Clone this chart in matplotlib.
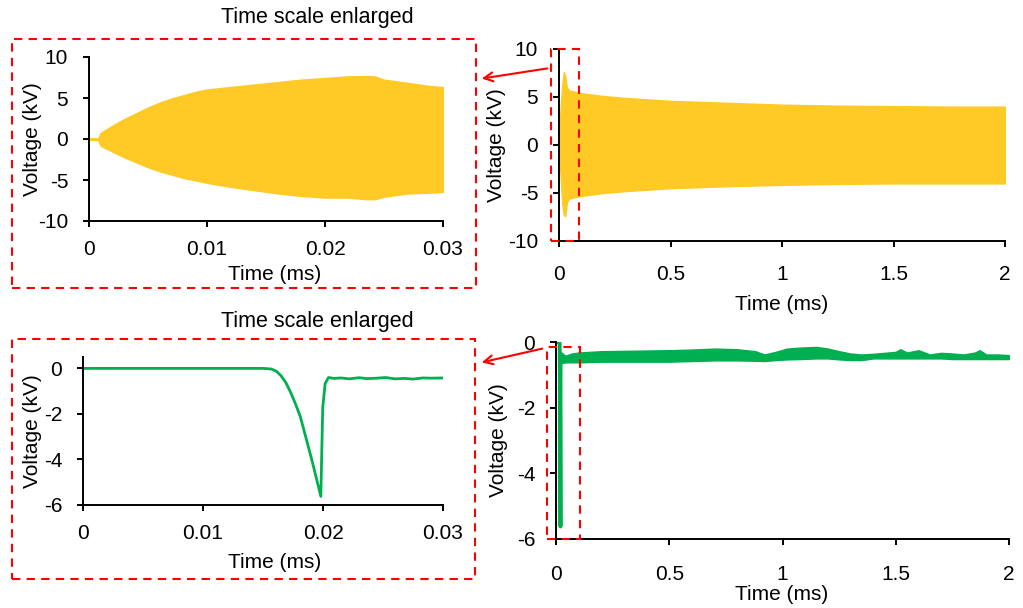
import matplotlib
matplotlib.use("Agg")
import matplotlib.pyplot as plt
from matplotlib.patches import Rectangle, FancyArrowPatch

plt.rcParams['font.family'] = ['Liberation Sans', 'DejaVu Sans']
plt.rcParams['axes.unicode_minus'] = False

YELLOW = '#FFC926'
GREEN = '#00B050'
RED = '#FF0000'

# ---- data ----
# top: oscillating voltage, envelope (kV) vs time (ms)
zoom_t = [0, 0.0008, 0.001, 0.002, 0.003, 0.004, 0.005, 0.006, 0.007, 0.008, 0.009,
          0.010, 0.012, 0.014, 0.016, 0.018, 0.020, 0.022, 0.0235, 0.0242, 0.025,
          0.027, 0.029, 0.030]
zoom_upper = [0, 0.05, 0.7, 1.6, 2.4, 3.1, 3.8, 4.4, 4.9, 5.3, 5.7, 6.0, 6.3, 6.6,
              6.9, 7.2, 7.4, 7.6, 7.65, 7.6, 7.2, 6.8, 6.4, 6.3]
zoom_lower = [0, -0.1, -0.8, -1.5, -2.2, -2.8, -3.4, -3.9, -4.3, -4.7, -5.0, -5.3,
              -5.8, -6.2, -6.6, -6.9, -7.1, -7.1, -7.3, -7.3, -7.0, -6.6, -6.5, -6.4]

full_t = [0, 0.003, 0.008, 0.015, 0.022, 0.028, 0.035, 0.045, 0.06, 0.1, 0.2, 0.3,
          0.5, 0.75, 1.0, 1.25, 1.5, 1.75, 2.0]
full_upper = [0, 2.0, 4.2, 6.4, 7.6, 7.2, 6.0, 5.7, 5.6, 5.4, 5.1, 4.9, 4.6, 4.4,
              4.2, 4.1, 4.05, 4.0, 4.0]
full_lower = [0, -1.6, -3.6, -6.2, -7.3, -7.4, -6.0, -5.6, -5.5, -5.3, -5.0, -4.8,
              -4.5, -4.3, -4.15, -4.05, -4.0, -4.0, -4.0]

# bottom: pulse voltage (kV) vs time (ms)
pulse_t = [0, 0.0100, 0.0150, 0.0153, 0.0157, 0.0161, 0.0165, 0.0169, 0.0173,
           0.0177, 0.0181, 0.01906, 0.01982, 0.0199, 0.01998, 0.02018, 0.02046,
           0.0209, 0.0215, 0.0222, 0.0230, 0.0237, 0.0245, 0.0252, 0.0260, 0.0268,
           0.0275, 0.0283, 0.0290, 0.0300]
pulse_v = [0, 0, 0, -0.01, -0.03, -0.12, -0.32, -0.62, -1.05, -1.55, -2.1, -4.0,
           -5.62, -3.6, -1.7, -0.66, -0.40, -0.44, -0.42, -0.46, -0.41, -0.45,
           -0.43, -0.40, -0.46, -0.44, -0.47, -0.42, -0.43, -0.42]

band_t = [0.02, 0.04, 0.07, 0.1, 0.15, 0.2, 0.3, 0.4, 0.5, 0.6, 0.7, 0.8, 0.88, 0.92,
          0.97, 1.02, 1.08, 1.15, 1.2, 1.25, 1.3, 1.35, 1.4, 1.45, 1.5, 1.52, 1.55,
          1.6, 1.62, 1.65, 1.7, 1.75, 1.8, 1.85, 1.87, 1.9, 1.95, 2.0]
band_upper = [-0.30, -0.42, -0.35, -0.32, -0.30, -0.28, -0.27, -0.26, -0.25, -0.23,
              -0.20, -0.22, -0.28, -0.38, -0.30, -0.20, -0.17, -0.15, -0.20, -0.28,
              -0.35, -0.38, -0.36, -0.33, -0.30, -0.22, -0.32, -0.25, -0.30, -0.38,
              -0.33, -0.35, -0.38, -0.32, -0.25, -0.38, -0.38, -0.40]
band_lower = [-0.65, -0.62, -0.62, -0.62, -0.61, -0.60, -0.60, -0.60, -0.60, -0.58,
              -0.56, -0.56, -0.57, -0.58, -0.55, -0.53, -0.52, -0.50, -0.50, -0.53,
              -0.55, -0.55, -0.50, -0.50, -0.50, -0.50, -0.50, -0.50, -0.50, -0.50,
              -0.50, -0.52, -0.52, -0.52, -0.52, -0.52, -0.52, -0.52]

zoom_xticks = [0, 0.01, 0.02, 0.03]
zoom_xlabels = ['0', '0.01', '0.02', '0.03']
full_xticks = [0, 0.5, 1, 1.5, 2]
full_xlabels = ['0', '0.5', '1', '1.5', '2']
osc_yticks = [-10, -5, 0, 5, 10]
pulse_yticks = [-6, -4, -2, 0]

# ---- layout (pixel based) ----
W, H = 1023, 608
fig = plt.figure(figsize=(W / 100, H / 100), dpi=100)


def px_axes(x0, y0, x1, y1):
    return fig.add_axes([x0 / W, 1 - y1 / H, (x1 - x0) / W, (y1 - y0) / H])


def fx(x):
    return x / W


def fy(y):
    return 1 - y / H


def style(ax, xticks, xlabels, yticks, xpad):
    for s in ['top', 'right']:
        ax.spines[s].set_visible(False)
    for s in ['left', 'bottom']:
        ax.spines[s].set_linewidth(1.4)
    ax.set_xticks(xticks)
    ax.set_xticklabels(xlabels)
    ax.set_yticks(yticks)
    ax.set_yticklabels([str(v) for v in yticks])
    ax.tick_params(direction='out', length=4, width=1.4, labelsize=15)
    ax.tick_params(axis='x', pad=xpad)
    ax.tick_params(axis='y', pad=11)


ax1 = px_axes(89, 57, 443, 221)
ax1.fill_between(zoom_t, zoom_lower, zoom_upper, color=YELLOW, lw=1.5)
ax1.set_xlim(0, 0.03)
ax1.set_ylim(-10, 10)
style(ax1, zoom_xticks, zoom_xlabels, osc_yticks, 10)

ax2 = px_axes(559, 49, 1005, 241)
ax2.fill_between(full_t, full_lower, full_upper, color=YELLOW, lw=1)
ax2.set_xlim(0, 2)
ax2.set_ylim(-10, 10)
style(ax2, full_xticks, full_xlabels, osc_yticks, 13)

ax3 = px_axes(83, 357, 443, 505)
ax3.plot(pulse_t, pulse_v, color=GREEN, lw=2)
ax3.set_xlim(0, 0.03)
ax3.set_ylim(-6, 0.5)
style(ax3, zoom_xticks, zoom_xlabels, pulse_yticks, 10)

ax4 = px_axes(556, 342, 1009, 539)
ax4.plot(pulse_t, pulse_v, color=GREEN, lw=2.8)
ax4.fill_between(band_t, band_lower, band_upper, color=GREEN, lw=1)
ax4.set_xlim(0, 2)
ax4.set_ylim(-6, 0)
style(ax4, full_xticks, full_xlabels, pulse_yticks, 15)

# axis titles
for x, y in [(275, 275), (782, 305), (275, 563), (782, 595)]:
    fig.text(fx(x), fy(y), 'Time (ms)', fontsize=15, ha='center', va='center')
for x, y in [(32, 139), (497, 145), (32, 431), (498, 440)]:
    fig.text(fx(x), fy(y), 'Voltage (kV)', fontsize=15, ha='center', va='center',
             rotation=90)
for y in [18, 322]:
    fig.text(fx(317), fy(y), 'Time scale enlarged', fontsize=15.5, ha='center',
             va='center')

# red dashed boxes and arrows
boxes = [(12, 39, 476, 288), (12, 339, 475, 579), (551, 49, 579, 241),
         (547, 347, 580, 539)]
for x0, y0, x1, y1 in boxes:
    fig.add_artist(Rectangle((fx(x0), fy(y1)), fx(x1) - fx(x0), fy(y0) - fy(y1),
                             transform=fig.transFigure, fill=False, ec=RED,
                             lw=1.5, ls=(0, (4, 3)), clip_on=False))
for (xa, ya), (xb, yb) in [((550, 68), (479, 79)), ((545, 348), (479, 363))]:
    fig.add_artist(FancyArrowPatch((fx(xa), fy(ya)), (fx(xb), fy(yb)),
                                   transform=fig.transFigure, arrowstyle='->',
                                   mutation_scale=16, color=RED, lw=1.5))

fig.savefig('out.png', dpi=100)
